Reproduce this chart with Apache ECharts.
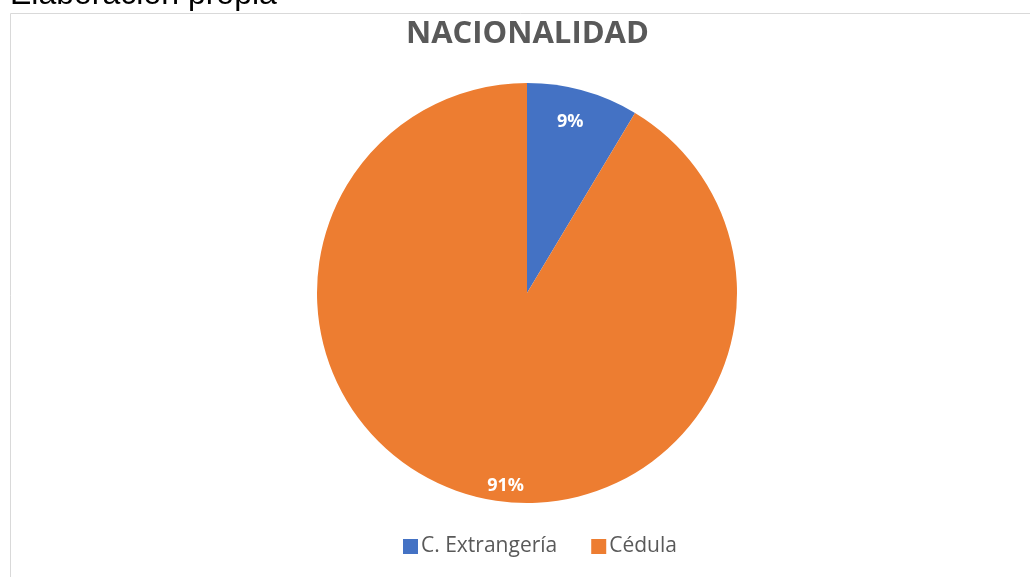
<!DOCTYPE html>
<html>
<head>
<meta charset="utf-8">
<script src="https://cdn.jsdelivr.net/npm/echarts@6/dist/echarts.min.js"></script>
<style>
  html, body { margin: 0; padding: 0; background: #fff; }
  #chart { width: 1030px; height: 577px; }
</style>
</head>
<body>
<div id="chart"></div>
<script>
var categories = ['C. Extrangería', 'Cédula'];
var values = [8.6, 91.4];
var colors = ['#4472C4', '#ED7D31'];

var dom = document.getElementById('chart');
var myChart = echarts.init(dom);

var pieData = categories.map(function (name, i) {
    return { name: name, value: values[i], itemStyle: { color: colors[i] } };
});

var option = {
    animation: false,
    title: {
        text: 'NACIONALIDAD',
        left: 406,
        top: 19,
        padding: 0,
        textStyle: {
            fontFamily: 'Open Sans',
            fontWeight: 'bold',
            fontSize: 31,
            color: '#595959'
        }
    },
    legend: {
        left: 403,
        top: 536,
        padding: 0,
        itemWidth: 15,
        itemHeight: 15,
        itemGap: 34,
        icon: 'rect',
        textStyle: {
            fontFamily: 'Open Sans',
            fontSize: 21,
            color: '#595959',
            padding: [0, 0, 0, -2]
        },
        data: categories
    },
    graphic: [
        {
            type: 'text',
            left: 10,
            top: -21,
            style: {
                text: 'Elaboración propia',
                font: '32px "Liberation Sans"',
                fill: '#000'
            }
        },
        {
            type: 'rect',
            left: 8,
            top: 11,
            shape: { width: 1040, height: 600 },
            style: { fill: 'none', stroke: '#d9d9d9', lineWidth: 1 }
        }
    ],
    series: [
        {
            name: 'Nacionalidad',
            type: 'pie',
            center: [527, 293],
            radius: [0, 210],
            startAngle: 90,
            clockwise: true,
            label: { show: false },
            labelLine: { show: false },
            data: pieData
        },
        {
            name: 'Etiquetas',
            type: 'pie',
            silent: true,
            center: [527, 293],
            radius: [146, 210],
            startAngle: 90,
            clockwise: true,
            percentPrecision: 0,
            itemStyle: { color: 'rgba(0,0,0,0)' },
            label: {
                show: true,
                position: 'inside',
                formatter: '{d}%',
                fontFamily: 'Open Sans',
                fontWeight: 'bold',
                fontSize: 18,
                color: '#fff'
            },
            labelLine: { show: false },
            data: categories.map(function (name, i) {
                var d = { name: name, value: values[i] };
                if (i === 0) d.label = { offset: [-5, 3] };
                if (i === 1) d.label = { offset: [27, 18] };
                return d;
            })
        }
    ]
};

myChart.setOption(option);
</script>
</body>
</html>
